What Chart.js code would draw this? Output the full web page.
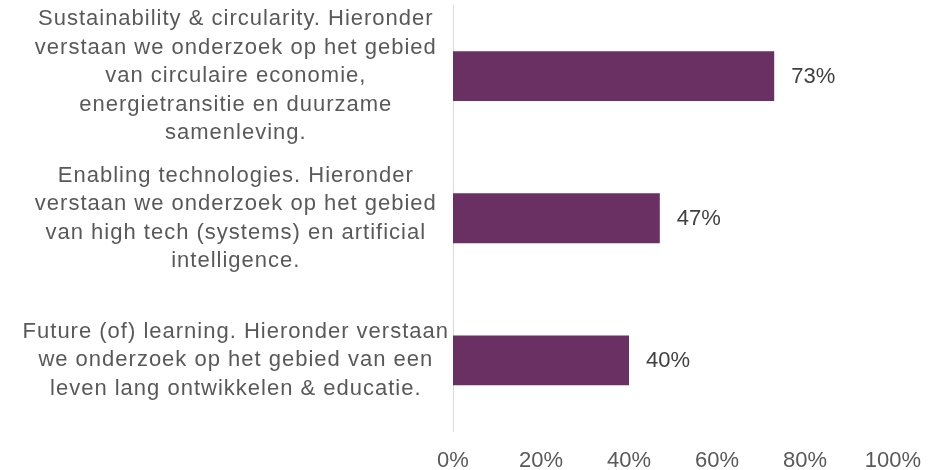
<!DOCTYPE html>
<html>
<head>
<meta charset="utf-8">
<script src="https://cdn.jsdelivr.net/npm/chart.js@4/dist/chart.umd.min.js"></script>
<style>
  html, body { margin: 0; padding: 0; background: #ffffff; }
  #wrap { width: 928px; height: 470px; position: relative; }
</style>
</head>
<body>
<div id="wrap"><canvas id="c" width="928" height="470"></canvas></div>
<script>
const categories = [
  ["Sustainability & circularity. Hieronder", "verstaan we onderzoek op het gebied", "van circulaire economie,", "energietransitie en duurzame", "samenleving."],
  ["Enabling technologies. Hieronder", "verstaan we onderzoek op het gebied", "van high tech (systems) en artificial", "intelligence."],
  ["Future (of) learning. Hieronder verstaan", "we onderzoek op het gebied van een", "leven lang ontwikkelen & educatie."]
];
const values = [73, 47, 40];
const xTicks = [0, 20, 40, 60, 80, 100];

const FONT = "'Liberation Sans', Arial, sans-serif";

const valueLabels = {
  id: 'valueLabels',
  afterDatasetsDraw(chart) {
    const ctx = chart.ctx;
    const meta = chart.getDatasetMeta(0);
    ctx.save();
    ctx.font = "22px " + FONT;
    ctx.fillStyle = '#404040';
    ctx.textAlign = 'left';
    ctx.textBaseline = 'middle';
    meta.data.forEach((bar, i) => {
      ctx.fillText(values[i] + '%', bar.x + 17, bar.y + 1);
    });
    ctx.restore();
  }
};

new Chart(document.getElementById('c'), {
  type: 'bar',
  data: {
    labels: categories,
    datasets: [{
      data: values,
      backgroundColor: '#6A2F63',
      borderWidth: 0,
      barPercentage: 0.35,
      categoryPercentage: 1.0
    }]
  },
  options: {
    indexAxis: 'y',
    responsive: false,
    animation: false,
    devicePixelRatio: 1,
    layout: { padding: { top: 5, right: 35, left: 0, bottom: 0 } },
    plugins: { legend: { display: false }, tooltip: { enabled: false } },
    scales: {
      x: {
        min: 0, max: 100,
        afterBuildTicks(scale) { scale.ticks = xTicks.map(v => ({ value: v })); },
        afterFit(scale) { scale.height = 38.5; scale.paddingLeft = 0; scale.paddingRight = 0; },
        grid: { display: false, drawTicks: false },
        border: { display: false },
        ticks: {
          padding: 16,
          color: '#595959',
          font: { family: FONT, size: 22 },
          callback: v => v + '%',
          maxRotation: 0,
          autoSkip: false
        }
      },
      y: {
        afterFit(scale) {
          scale.width = 453;
          scale.paddingTop = 0;
          scale.paddingBottom = 0;
          if (!scale._spacedLabels) {
            const orig = scale.drawLabels;
            scale.drawLabels = function (area) {
              const ctx = this.ctx;
              ctx.save();
              ctx.letterSpacing = '1px';
              orig.call(this, area);
              ctx.restore();
            };
            scale._spacedLabels = true;
          }
        },
        grid: { display: false, drawTicks: false },
        border: { display: true, color: '#D9D9D9', width: 1 },
        ticks: {
          autoSkip: false,
          crossAlign: 'center',
          padding: 24,
          color: '#595959',
          font: { family: FONT, size: 22, lineHeight: 1.29 }
        }
      }
    }
  },
  plugins: [valueLabels]
});
</script>
</body>
</html>
